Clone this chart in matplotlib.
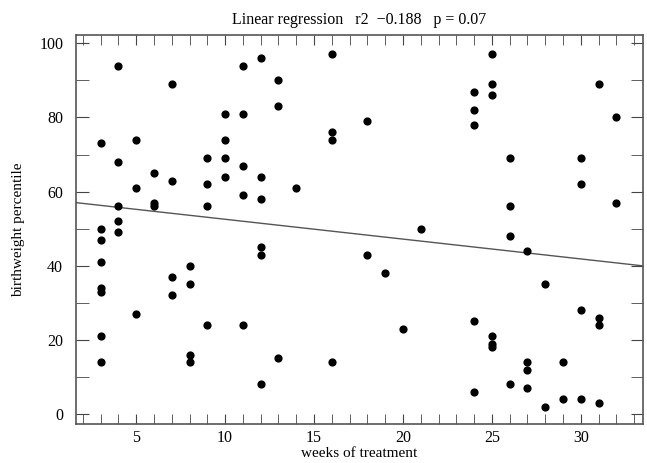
import numpy as np
import matplotlib
matplotlib.use('Agg')
import matplotlib.pyplot as plt
from matplotlib.ticker import MultipleLocator

# weeks of treatment / birthweight percentile
weeks = [3, 3, 3, 3, 3, 3, 3, 3,
         4, 4, 4, 4, 4,
         5, 5, 5,
         6, 6, 6,
         7, 7, 7, 7,
         8, 8, 8, 8,
         9, 9, 9, 9,
         10, 10, 10, 10,
         11, 11, 11, 11, 11,
         12, 12, 12, 12, 12, 12,
         13, 13, 13,
         14,
         16, 16, 16, 16,
         18, 18,
         19,
         20,
         21,
         24, 24, 24, 24, 24,
         25, 25, 25, 25, 25, 25,
         26, 26, 26, 26,
         27, 27, 27, 27,
         28, 28,
         29, 29,
         30, 30, 30, 30,
         31, 31, 31, 31,
         32, 32]
percentile = [73, 50, 47, 41, 34, 33, 21, 14,
              94, 68, 56, 52, 49,
              74, 61, 27,
              65, 57, 56,
              89, 63, 37, 32,
              40, 35, 16, 14,
              69, 62, 56, 24,
              81, 74, 69, 64,
              94, 81, 67, 59, 24,
              96, 64, 58, 45, 43, 8,
              90, 83, 15,
              61,
              97, 76, 74, 14,
              79, 43,
              38,
              23,
              50,
              87, 82, 78, 25, 6,
              97, 89, 86, 21, 19, 18,
              69, 56, 48, 8,
              44, 14, 12, 7,
              35, 2,
              14, 4,
              69, 62, 28, 4,
              89, 26, 24, 3,
              80, 57]

# regression line as drawn
intercept = 57.9
slope = -0.535

plt.rcParams['font.family'] = ['Liberation Serif', 'DejaVu Serif']

fig = plt.figure(figsize=(6.47, 4.63), dpi=100)
ax = fig.add_axes([0.117, 0.084, 0.877, 0.840])

xmin, xmax = 1.6, 33.5
lx = np.array([xmin, xmax])
ax.plot(lx, intercept + slope * lx, color='#555555', lw=1.0, zorder=1)
ax.scatter(weeks, percentile, s=24, color='black', zorder=2)

ax.set_xlim(xmin, xmax)
ax.set_ylim(-2.7, 102.2)
ax.xaxis.set_major_locator(MultipleLocator(5))
ax.xaxis.set_minor_locator(MultipleLocator(1))
ax.yaxis.set_major_locator(MultipleLocator(20))
ax.yaxis.set_minor_locator(MultipleLocator(10))
ax.tick_params(which='both', direction='in', top=True, right=True,
               color='#444444', labelsize=11.5)
ax.tick_params(axis='x', which='both', length=7, pad=4)
ax.tick_params(axis='y', which='both', length=9, pad=9)
for s in ax.spines.values():
    s.set_color('#555555')
    s.set_linewidth(1.2)

ax.set_xlabel('weeks of treatment', fontsize=11, labelpad=1)
ax.set_ylabel('birthweight percentile', fontsize=11, labelpad=10)
ax.set_title('Linear regression   r2  \u22120.188   p = 0.07', fontsize=11.5, pad=8)

fig.savefig('out.png', dpi=100)
